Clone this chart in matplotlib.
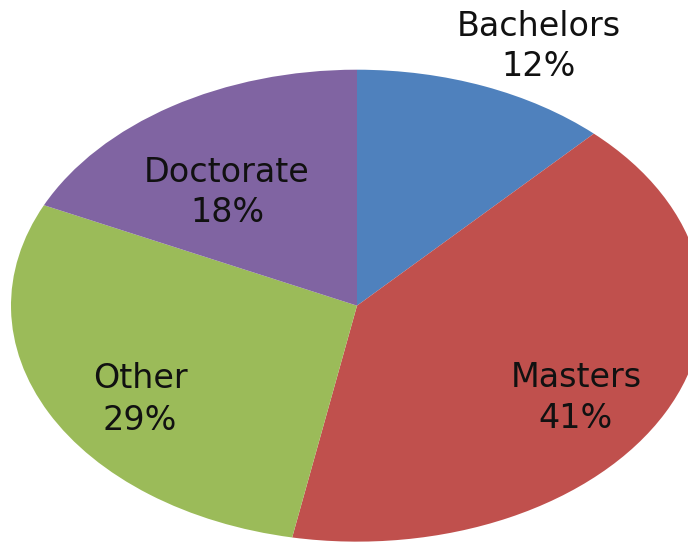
import matplotlib
matplotlib.use("Agg")
import matplotlib.pyplot as plt

categories = ["Bachelors", "Masters", "Other", "Doctorate"]
values = [12, 41, 29, 18]
colors = ["#4F81BD", "#C0504D", "#9BBB59", "#8064A2"]

# label baseline positions in pixels (x center, name baseline, pct baseline)
label_pos = {
    "Bachelors": (539, 36, 76),
    "Masters": (576, 387, 428),
    "Other": (140, 388, 430),
    "Doctorate": (227, 182, 222),
}

W, H = 688, 544
fig = plt.figure(figsize=(W / 100, H / 100), dpi=100)
ax = fig.add_axes([0, 0, 1, 1])
ax.pie(values, colors=colors, startangle=90, counterclock=False,
       radius=1.0, wedgeprops=dict(linewidth=0))
ax.set_aspect("auto")
cx, cy, rx, ry = 357, 307, 346, 237
ax.set_xlim(-cx / rx, (W - cx) / rx)
ax.set_ylim(-(H - cy) / ry - 0.01, cy / ry)
ax.axis("off")

for cat, val in zip(categories, values):
    x, yb1, yb2 = label_pos[cat]
    fig.text(x / W, 1 - yb1 / H, cat, ha="center", va="baseline",
             fontsize=24, color="#111111", family="DejaVu Sans")
    fig.text(x / W, 1 - yb2 / H, f"{val}%", ha="center", va="baseline",
             fontsize=24, color="#111111", family="DejaVu Sans")

fig.savefig("out.png", dpi=100, facecolor="white")
